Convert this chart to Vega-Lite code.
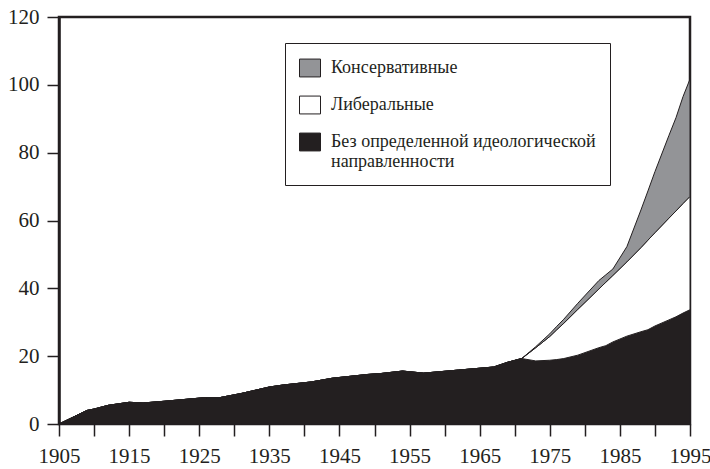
{
  "$schema": "https://vega.github.io/schema/vega-lite/v6.json",
  "width": 631,
  "height": 407,
  "autosize": "none",
  "padding": {"left": 59, "top": 17, "right": 20, "bottom": 45},
  "background": "white",
  "config": {
    "view": {"stroke": "#231f20", "strokeWidth": 2.5},
    "axis": {
      "labelFont": "Liberation Serif",
      "labelFontSize": 21,
      "labelColor": "#231f20",
      "tickColor": "#231f20",
      "tickWidth": 1.5,
      "tickSize": 12,
      "domain": false,
      "grid": false,
      "title": null
    }
  },
  "data": {
    "values": [
      {"year": 1905, "group": "Без определенной идеологической направленности", "count": 0},
      {"year": 1909, "group": "Без определенной идеологической направленности", "count": 4.0},
      {"year": 1910, "group": "Без определенной идеологической направленности", "count": 4.4},
      {"year": 1912, "group": "Без определенной идеологической направленности", "count": 5.5},
      {"year": 1915, "group": "Без определенной идеологической направленности", "count": 6.4},
      {"year": 1917, "group": "Без определенной идеологической направленности", "count": 6.2},
      {"year": 1920, "group": "Без определенной идеологической направленности", "count": 6.7},
      {"year": 1926, "group": "Без определенной идеологической направленности", "count": 7.8},
      {"year": 1928, "group": "Без определенной идеологической направленности", "count": 7.8},
      {"year": 1931, "group": "Без определенной идеологической направленности", "count": 9.0},
      {"year": 1935, "group": "Без определенной идеологической направленности", "count": 10.9},
      {"year": 1937, "group": "Без определенной идеологической направленности", "count": 11.5},
      {"year": 1941, "group": "Без определенной идеологической направленности", "count": 12.4},
      {"year": 1944, "group": "Без определенной идеологической направленности", "count": 13.5},
      {"year": 1949, "group": "Без определенной идеологической направленности", "count": 14.6},
      {"year": 1951, "group": "Без определенной идеологической направленности", "count": 14.9},
      {"year": 1954, "group": "Без определенной идеологической направленности", "count": 15.6},
      {"year": 1957, "group": "Без определенной идеологической направленности", "count": 15.0},
      {"year": 1962, "group": "Без определенной идеологической направленности", "count": 15.9},
      {"year": 1967, "group": "Без определенной идеологической направленности", "count": 16.8},
      {"year": 1969, "group": "Без определенной идеологической направленности", "count": 18.2},
      {"year": 1971, "group": "Без определенной идеологической направленности", "count": 19.3},
      {"year": 1973, "group": "Без определенной идеологической направленности", "count": 18.6},
      {"year": 1975, "group": "Без определенной идеологической направленности", "count": 18.8},
      {"year": 1976, "group": "Без определенной идеологической направленности", "count": 19.0},
      {"year": 1977, "group": "Без определенной идеологической направленности", "count": 19.3},
      {"year": 1979, "group": "Без определенной идеологической направленности", "count": 20.3},
      {"year": 1982, "group": "Без определенной идеологической направленности", "count": 22.5},
      {"year": 1983, "group": "Без определенной идеологической направленности", "count": 23.1},
      {"year": 1984, "group": "Без определенной идеологической направленности", "count": 24.2},
      {"year": 1986, "group": "Без определенной идеологической направленности", "count": 25.9},
      {"year": 1988, "group": "Без определенной идеологической направленности", "count": 27.2},
      {"year": 1989, "group": "Без определенной идеологической направленности", "count": 27.8},
      {"year": 1990, "group": "Без определенной идеологической направленности", "count": 28.9},
      {"year": 1992, "group": "Без определенной идеологической направленности", "count": 30.7},
      {"year": 1993, "group": "Без определенной идеологической направленности", "count": 31.6},
      {"year": 1994, "group": "Без определенной идеологической направленности", "count": 32.7},
      {"year": 1995, "group": "Без определенной идеологической направленности", "count": 33.7},
      {"year": 1971, "group": "Либеральные", "count": 0},
      {"year": 1973, "group": "Либеральные", "count": 3.9},
      {"year": 1975, "group": "Либеральные", "count": 7.0},
      {"year": 1976, "group": "Либеральные", "count": 8.8},
      {"year": 1977, "group": "Либеральные", "count": 10.4},
      {"year": 1979, "group": "Либеральные", "count": 13.5},
      {"year": 1982, "group": "Либеральные", "count": 17.3},
      {"year": 1983, "group": "Либеральные", "count": 18.7},
      {"year": 1984, "group": "Либеральные", "count": 19.6},
      {"year": 1986, "group": "Либеральные", "count": 21.9},
      {"year": 1988, "group": "Либеральные", "count": 24.8},
      {"year": 1989, "group": "Либеральные", "count": 26.4},
      {"year": 1990, "group": "Либеральные", "count": 27.5},
      {"year": 1992, "group": "Либеральные", "count": 30.0},
      {"year": 1993, "group": "Либеральные", "count": 31.2},
      {"year": 1994, "group": "Либеральные", "count": 32.3},
      {"year": 1995, "group": "Либеральные", "count": 33.4},
      {"year": 1971, "group": "Консервативные", "count": 0},
      {"year": 1973, "group": "Консервативные", "count": 0.3},
      {"year": 1975, "group": "Консервативные", "count": 0.8},
      {"year": 1976, "group": "Консервативные", "count": 1.0},
      {"year": 1977, "group": "Консервативные", "count": 1.2},
      {"year": 1979, "group": "Консервативные", "count": 1.8},
      {"year": 1982, "group": "Консервативные", "count": 2.5},
      {"year": 1983, "group": "Консервативные", "count": 2.2},
      {"year": 1984, "group": "Консервативные", "count": 1.9},
      {"year": 1986, "group": "Консервативные", "count": 4.5},
      {"year": 1988, "group": "Консервативные", "count": 11.1},
      {"year": 1989, "group": "Консервативные", "count": 14.5},
      {"year": 1990, "group": "Консервативные", "count": 18.0},
      {"year": 1992, "group": "Консервативные", "count": 24.4},
      {"year": 1993, "group": "Консервативные", "count": 27.5},
      {"year": 1994, "group": "Консервативные", "count": 31.5},
      {"year": 1995, "group": "Консервативные", "count": 34.6}
    ]
  },
  "transform": [
    {"calculate": "indexof(['Без определенной идеологической направленности', 'Либеральные', 'Консервативные'], datum.group)", "as": "stackOrder"}
  ],
  "mark": {"type": "area", "opacity": 1, "stroke": "#231f20", "strokeWidth": 1, "interpolate": "linear"},
  "encoding": {
    "x": {
      "field": "year",
      "type": "quantitative",
      "scale": {"domain": [1905, 1995], "nice": false, "zero": false},
      "axis": {
        "values": [1905, 1910, 1915, 1920, 1925, 1930, 1935, 1940, 1945, 1950, 1955, 1960, 1965, 1970, 1975, 1980, 1985, 1990, 1995],
        "format": "d",
        "labelExpr": "datum.value % 10 == 5 ? datum.label : ''",
        "labelPadding": 9,
        "labelFlush": false,
        "labelOverlap": false
      }
    },
    "y": {
      "field": "count",
      "type": "quantitative",
      "stack": "zero",
      "scale": {"domain": [0, 120], "nice": false},
      "axis": {"values": [0, 20, 40, 60, 80, 100, 120], "labelPadding": 8, "domain": true, "domainColor": "#231f20", "domainWidth": 2.5}
    },
    "order": {"field": "stackOrder", "type": "quantitative", "sort": "ascending"},
    "color": {
      "field": "group",
      "type": "nominal",
      "scale": {
        "domain": ["Консервативные", "Либеральные", "Без определенной идеологической направленности"],
        "range": ["#939497", "#ffffff", "#231f20"]
      },
      "legend": {
        "orient": "none",
        "legendX": 226,
        "legendY": 26,
        "direction": "vertical",
        "title": null,
        "symbolType": "M-1,-0.85H1V0.85H-1Z",
        "symbolSize": 441,
        "symbolStrokeColor": "#231f20",
        "symbolStrokeWidth": 1,
        "symbolOpacity": 1,
        "labelFont": "Liberation Serif",
        "labelFontSize": 18,
        "labelColor": "#231f20",
        "labelOffset": 10,
        "labelLimit": 400,
        "labelExpr": "datum.label == 'Без определенной идеологической направленности' ? ['Без определенной идеологической', 'направленности'] : datum.label",
        "rowPadding": 15,
        "padding": 14,
        "strokeColor": "#231f20",
        "fillColor": "white"
      }
    }
  }
}
